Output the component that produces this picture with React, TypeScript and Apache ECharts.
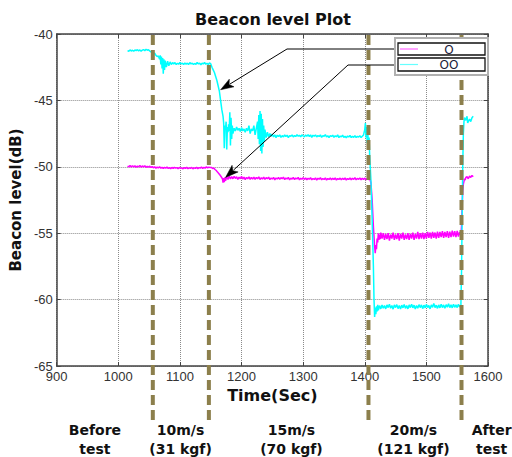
import React, { useEffect, useRef } from "react";
import * as echarts from "echarts";

const xMin = 900;
const xMax = 1600;
const yMin = -65;
const yMax = -40;

// Phase boundaries (dashed lines), seconds
const phaseBoundaries = [1056, 1147, 1406, 1557];
// Phase labels below the chart: [time of centre, text]
const phaseLabelTimes = [962, 1101, 1281, 1479, 1606];
const phaseLabelTexts = ["Before\ntest", "10m/s\n(31 kgf)", "15m/s\n(70 kgf)", "20m/s\n(121 kgf)", "After\ntest"];

const seriesNames = ["O", "OO"];

// ---- Cyan series ("OO") ----
const cyanBefore: number[][] = [
  [1015, -41.25], [1017, -41.3], [1019, -41.2], [1021, -41.28], [1023, -41.22], [1025, -41.3], [1027, -41.2],
  [1029, -41.26], [1031, -41.18], [1033, -41.27], [1035, -41.2], [1037, -41.29], [1039, -41.22], [1041, -41.17],
  [1043, -41.26], [1045, -41.15], [1047, -41.22], [1049, -41.18], [1051, -41.28], [1053, -41.35],
];
const cyan10: number[][] = [
  [1055, -41.4], [1057, -41.5], [1059, -41.45], [1061, -41.6], [1063, -41.7], [1065, -41.65], [1067, -41.9],
  [1068, -41.6], [1069, -42.3], [1070, -41.7], [1071, -42.6], [1072, -41.8], [1073, -43.0], [1074, -41.9],
  [1075, -42.7], [1076, -42.0], [1078, -42.5], [1080, -42.05], [1082, -42.4], [1084, -42.1], [1086, -42.3],
  [1088, -42.15], [1090, -42.25], [1092, -42.15], [1094, -42.3], [1096, -42.2], [1098, -42.28], [1100, -42.15],
  [1102, -42.25], [1104, -42.2], [1106, -42.3], [1108, -42.18], [1110, -42.27], [1112, -42.2], [1114, -42.3],
  [1116, -42.15], [1118, -42.25], [1120, -42.2], [1122, -42.3], [1124, -42.22], [1126, -42.28], [1128, -42.15],
  [1130, -42.25], [1132, -42.2], [1134, -42.32], [1136, -42.2], [1138, -42.25], [1140, -42.15], [1142, -42.28],
  [1144, -42.2], [1146, -42.3], [1148, -42.18], [1150, -42.25],
];
const cyan15: number[][] = [
  [1152, -42.5], [1154, -42.7], [1156, -42.9], [1158, -43.2], [1160, -43.5], [1162, -43.9], [1164, -44.3],
  [1166, -45.0], [1168, -45.7], [1170, -46.2], [1171, -46.7], [1172, -48.6], [1173, -46.9], [1174, -47.2],
  [1175, -46.6], [1176, -48.7], [1177, -47.0], [1178, -47.4], [1179, -46.8], [1180, -47.3], [1181, -45.9],
  [1182, -48.4], [1183, -46.3], [1184, -47.9], [1185, -46.9], [1186, -47.5], [1188, -47.1], [1190, -47.3],
  [1192, -47.0], [1194, -47.25], [1196, -47.1], [1198, -47.35], [1200, -47.05], [1202, -47.3], [1204, -47.15],
  [1206, -47.4], [1208, -47.1], [1210, -47.3], [1212, -46.9], [1214, -47.5], [1216, -47.15], [1218, -47.3],
  [1220, -46.9], [1222, -47.6], [1224, -47.1], [1226, -46.6], [1227, -47.9], [1228, -46.1], [1229, -48.3],
  [1230, -45.8], [1231, -48.8], [1232, -46.0], [1233, -49.0], [1234, -46.4], [1235, -48.5], [1236, -46.9],
  [1237, -48.1], [1238, -47.2], [1240, -47.8], [1242, -47.4], [1244, -47.75], [1246, -47.5], [1248, -47.7],
  [1250, -47.55], [1252, -47.75], [1254, -47.6], [1256, -47.8], [1258, -47.62], [1260, -47.72], [1262, -47.6],
  [1264, -47.78], [1266, -47.65], [1268, -47.75], [1270, -47.6], [1272, -47.72], [1274, -47.62], [1276, -47.8],
  [1278, -47.65], [1280, -47.7], [1282, -47.6], [1284, -47.75], [1286, -47.65], [1288, -47.72], [1290, -47.58],
  [1292, -47.7], [1294, -47.62], [1296, -47.75], [1298, -47.6], [1300, -47.68], [1302, -47.75], [1304, -47.6],
  [1306, -47.7], [1308, -47.58], [1310, -47.72], [1312, -47.6], [1314, -47.78], [1316, -47.62], [1318, -47.7],
  [1320, -47.6], [1322, -47.75], [1324, -47.65], [1326, -47.72], [1328, -47.6], [1330, -47.78], [1332, -47.65],
  [1334, -47.7], [1336, -47.58], [1338, -47.75], [1340, -47.66], [1342, -47.8], [1344, -47.65], [1346, -47.72],
  [1348, -47.62], [1350, -47.78], [1352, -47.66], [1354, -47.74], [1356, -47.6], [1358, -47.8], [1360, -47.68],
  [1362, -47.75], [1364, -47.62], [1366, -47.78], [1368, -47.7], [1370, -47.82], [1372, -47.68], [1374, -47.76],
  [1376, -47.64], [1378, -47.8], [1380, -47.7], [1382, -47.78], [1384, -47.65], [1386, -47.8], [1388, -47.7],
  [1390, -47.76], [1392, -47.66], [1394, -47.8], [1396, -47.7], [1398, -47.6], [1400, -47.2], [1401, -46.7],
  [1402, -47.8], [1403, -47.0], [1404, -48.2], [1405, -47.4], [1406, -48.6], [1407, -47.8], [1408, -49.2],
];
const cyan20: number[][] = [
  [1410, -51.0], [1412, -54.0], [1414, -57.5], [1415, -60.0], [1416, -61.3], [1417, -60.6], [1418, -61.1],
  [1419, -60.5], [1420, -60.9], [1421, -60.4], [1422, -60.8], [1424, -60.45], [1426, -60.7], [1428, -60.4],
  [1430, -60.65], [1432, -60.45], [1434, -60.7], [1436, -60.4], [1438, -60.6], [1440, -60.35], [1442, -60.65],
  [1444, -60.45], [1446, -60.72], [1448, -60.4], [1450, -60.6], [1452, -60.38], [1454, -60.68], [1456, -60.45],
  [1458, -60.7], [1460, -60.42], [1462, -60.62], [1464, -60.36], [1466, -60.66], [1468, -60.44], [1470, -60.7],
  [1472, -60.4], [1474, -60.6], [1476, -60.35], [1478, -60.62], [1480, -60.42], [1482, -60.7], [1484, -60.45],
  [1486, -60.65], [1488, -60.38], [1490, -60.6], [1492, -60.4], [1494, -60.68], [1496, -60.42], [1498, -60.62],
  [1500, -60.36], [1502, -60.6], [1504, -60.44], [1506, -60.7], [1508, -60.4], [1510, -60.58], [1512, -60.3],
  [1514, -60.6], [1516, -60.42], [1518, -60.66], [1520, -60.4], [1522, -60.62], [1524, -60.35], [1526, -60.6],
  [1528, -60.4], [1530, -60.65], [1532, -60.38], [1534, -60.58], [1536, -60.32], [1538, -60.6], [1540, -60.4],
  [1542, -60.62], [1544, -60.35], [1546, -60.58], [1548, -60.4], [1550, -60.6], [1552, -60.36], [1554, -60.55],
  [1556, -60.45],
];
const cyanAfter: number[][] = [
  [1557, -58.0], [1558, -54.0], [1559, -50.0], [1560, -47.5], [1561, -46.6], [1562, -46.3], [1564, -46.5],
  [1566, -46.2], [1567, -46.7], [1568, -46.6], [1570, -46.4], [1572, -46.6], [1574, -46.3], [1576, -46.2],
];

// ---- Magenta series ("O") ----
const magBefore: number[][] = [
  [1015, -49.95], [1017, -50.0], [1019, -49.9], [1021, -50.02], [1023, -49.92], [1025, -50.0], [1027, -49.93],
  [1029, -50.03], [1031, -49.95], [1033, -50.0], [1035, -49.9], [1037, -50.02], [1039, -49.94], [1041, -50.0],
  [1043, -49.92], [1045, -50.04], [1047, -49.96], [1049, -50.02], [1051, -49.95], [1053, -50.05], [1055, -49.98],
  [1057, -50.08], [1059, -50.0], [1061, -50.1], [1063, -50.02], [1065, -50.08], [1067, -50.0], [1069, -50.1],
  [1071, -50.04], [1073, -50.12], [1075, -50.05], [1077, -50.1], [1079, -50.02], [1081, -50.12], [1083, -50.06],
  [1085, -50.14], [1087, -50.05], [1089, -50.12], [1091, -50.04], [1093, -50.1], [1095, -50.06], [1097, -50.15],
  [1099, -50.05], [1101, -50.12], [1103, -50.08], [1105, -50.15], [1107, -50.06], [1109, -50.12], [1111, -50.04],
  [1113, -50.14], [1115, -50.08], [1117, -50.12], [1119, -50.05], [1121, -50.15], [1123, -50.08], [1125, -50.12],
  [1127, -50.04], [1129, -50.14], [1131, -50.06], [1133, -50.1], [1135, -50.02], [1137, -50.12], [1139, -50.05],
  [1141, -50.1], [1143, -50.0], [1145, -50.08], [1147, -50.02], [1149, -50.06],
];
const mag15: number[][] = [
  [1151, -50.05], [1153, -50.12], [1155, -50.1], [1157, -50.2], [1159, -50.28], [1161, -50.4], [1163, -50.5],
  [1165, -50.62], [1167, -50.75], [1169, -50.9], [1170, -51.2], [1171, -50.85], [1172, -51.15], [1173, -50.8],
  [1174, -51.05], [1176, -50.75], [1178, -50.95], [1180, -50.7], [1182, -50.92], [1184, -50.74], [1186, -50.9],
  [1188, -50.72], [1190, -50.88], [1192, -50.75], [1194, -50.95], [1196, -50.78], [1198, -50.9], [1200, -50.72],
  [1202, -50.92], [1204, -50.78], [1206, -50.96], [1208, -50.8], [1210, -50.9], [1212, -50.76], [1214, -50.94],
  [1216, -50.8], [1218, -50.92], [1220, -50.78], [1222, -50.95], [1224, -50.8], [1226, -50.9], [1228, -50.76],
  [1230, -50.96], [1232, -50.82], [1234, -50.92], [1236, -50.78], [1238, -50.95], [1240, -50.82], [1242, -50.9],
  [1244, -50.78], [1246, -50.96], [1248, -50.84], [1250, -50.92], [1252, -50.8], [1254, -50.98], [1256, -50.84],
  [1258, -50.92], [1260, -50.8], [1262, -50.95], [1264, -50.82], [1266, -50.9], [1268, -50.78], [1270, -50.96],
  [1272, -50.84], [1274, -50.92], [1276, -50.8], [1278, -50.98], [1280, -50.85], [1282, -50.93], [1284, -50.8],
  [1286, -50.96], [1288, -50.84], [1290, -50.92], [1292, -50.8], [1294, -50.98], [1296, -50.86], [1298, -50.94],
  [1300, -50.82], [1302, -50.95], [1304, -50.84], [1306, -50.98], [1308, -50.86], [1310, -50.94], [1312, -50.82],
  [1314, -50.98], [1316, -50.88], [1318, -50.95], [1320, -50.84], [1322, -51.0], [1324, -50.86], [1326, -50.94],
  [1328, -50.82], [1330, -50.98], [1332, -50.88], [1334, -50.96], [1336, -50.84], [1338, -51.0], [1340, -50.88],
  [1342, -50.95], [1344, -50.84], [1346, -50.98], [1348, -50.86], [1350, -50.96], [1352, -50.84], [1354, -51.0],
  [1356, -50.88], [1358, -50.95], [1360, -50.85], [1362, -50.98], [1364, -50.86], [1366, -50.96], [1368, -50.84],
  [1370, -51.0], [1372, -50.88], [1374, -50.95], [1376, -50.84], [1378, -50.98], [1380, -50.86], [1382, -50.95],
  [1384, -50.82], [1386, -50.98], [1388, -50.88], [1390, -50.94], [1392, -50.84], [1394, -50.98], [1396, -50.86],
  [1398, -50.95], [1400, -50.85], [1402, -50.98], [1404, -50.88], [1406, -50.96], [1408, -50.9],
];
const mag20: number[][] = [
  [1410, -51.2], [1412, -52.5], [1414, -54.5], [1416, -56.0], [1417, -56.5], [1418, -55.9], [1419, -56.2],
  [1420, -55.4], [1421, -55.7], [1422, -55.0], [1423, -55.5], [1424, -55.1], [1425, -55.45], [1426, -54.95],
  [1428, -55.4], [1430, -55.0], [1432, -55.5], [1434, -55.05], [1436, -55.45], [1438, -55.0], [1440, -55.55],
  [1442, -55.1], [1444, -55.4], [1446, -54.95], [1448, -55.5], [1450, -55.1], [1452, -55.45], [1454, -55.0],
  [1456, -55.55], [1458, -55.05], [1460, -55.4], [1462, -54.95], [1464, -55.5], [1466, -55.1], [1468, -55.45],
  [1470, -55.0], [1472, -55.5], [1474, -55.05], [1476, -55.4], [1478, -54.95], [1480, -55.5], [1482, -55.05],
  [1484, -55.4], [1486, -54.9], [1488, -55.45], [1490, -55.0], [1492, -55.4], [1494, -54.95], [1496, -55.45],
  [1498, -55.0], [1500, -55.4], [1502, -54.9], [1504, -55.35], [1506, -54.95], [1508, -55.4], [1510, -54.9],
  [1512, -55.35], [1514, -54.95], [1516, -55.4], [1518, -54.88], [1520, -55.35], [1522, -54.9], [1524, -55.3],
  [1526, -54.85], [1528, -55.35], [1530, -54.9], [1532, -55.3], [1534, -54.85], [1536, -55.35], [1538, -54.88],
  [1540, -55.3], [1542, -54.8], [1544, -55.25], [1546, -54.85], [1548, -55.3], [1550, -54.82], [1552, -55.25],
  [1554, -54.9], [1556, -55.2],
];
const magAfter: number[][] = [
  [1557, -54.5], [1558, -53.0], [1559, -51.8], [1560, -51.3], [1561, -51.1], [1562, -50.9], [1563, -51.0],
  [1564, -50.8], [1566, -50.75], [1568, -50.9], [1570, -50.7], [1572, -50.8], [1574, -50.65], [1576, -50.75],
];

// Points the two annotation arrows point at (time, dB)
const arrowTargets: number[][] = [
  [1166, -44.2],
  [1174, -50.8],
];

const MAGENTA = "#ff00ff";
const CYAN = "#00ffff";
const OLIVE = "#8c7f4c";
const TICK_FONT = "Liberation Sans, Arial, sans-serif";
const BOLD_FONT = "DejaVu Sans, sans-serif";

export default function App() {
  const ref = useRef<HTMLDivElement>(null);

  useEffect(() => {
    if (!ref.current) return;
    const chart = echarts.init(ref.current, undefined, { renderer: "svg" });

    const magenta = [...magBefore, ...mag15, ...mag20, ...magAfter];
    const cyan = [...cyanBefore, ...cyan10, ...cyan15, ...cyan20, ...cyanAfter];

    const axisCommon = {
      type: "value" as const,
      axisTick: { show: true, inside: true, length: 4, lineStyle: { color: "#444" } },
      axisLine: { show: true, lineStyle: { color: "#444", width: 1.5 } },
    };
    const plain = (v: number) => String(v);

    chart.setOption({
      animation: false,
      backgroundColor: "#ffffff",
      title: {
        text: "Beacon level Plot",
        left: 268,
        top: 6,
        textAlign: "center",
        textStyle: { fontFamily: BOLD_FONT, fontWeight: "bold", fontSize: 16, color: "#111" },
      },
      grid: { left: 48, right: 24, top: 34, bottom: 91, show: false },
      xAxis: [
        {
          ...axisCommon,
          min: xMin,
          max: xMax,
          interval: 100,
          position: "bottom",
          name: "Time(Sec)",
          nameLocation: "middle",
          nameGap: 18,
          nameTextStyle: { fontFamily: BOLD_FONT, fontWeight: "bold", fontSize: 16, color: "#111" },
          axisLabel: { margin: 4, fontFamily: TICK_FONT, fontSize: 13, color: "#333", formatter: plain },
          splitLine: { show: true, lineStyle: { type: "dotted", color: "#8a8a8a", width: 1 } },
        },
        {
          ...axisCommon,
          min: xMin,
          max: xMax,
          interval: 100,
          position: "top",
          axisLabel: { show: false },
          splitLine: { show: false },
        },
      ],
      yAxis: [
        {
          ...axisCommon,
          min: yMin,
          max: yMax,
          interval: 5,
          position: "left",
          name: "Beacon level(dB)",
          nameLocation: "middle",
          nameGap: 25,
          nameRotate: 90,
          nameTextStyle: { fontFamily: BOLD_FONT, fontWeight: "bold", fontSize: 15, color: "#111" },
          axisLabel: { margin: 4, fontFamily: TICK_FONT, fontSize: 13, color: "#333", formatter: plain },
          splitLine: { show: true, lineStyle: { type: "dotted", color: "#8a8a8a", width: 1 } },
        },
        {
          ...axisCommon,
          min: yMin,
          max: yMax,
          interval: 5,
          position: "right",
          axisLabel: { show: false },
          splitLine: { show: false },
        },
      ],
      series: [
        {
          name: seriesNames[0],
          type: "line",
          data: magenta,
          showSymbol: false,
          lineStyle: { color: MAGENTA, width: 1.5 },
          itemStyle: { color: MAGENTA },
        },
        {
          name: seriesNames[1],
          type: "line",
          data: cyan,
          showSymbol: false,
          lineStyle: { color: CYAN, width: 1.5 },
          itemStyle: { color: CYAN },
        },
      ],
    });

    const px = (t: number, v: number) =>
      chart.convertToPixel({ xAxisIndex: 0, yAxisIndex: 0 }, [t, v]) as number[];

    const graphics: any[] = [];

    // Dashed phase boundaries (extend below the axis)
    const topY = px(xMin, yMax)[1];
    phaseBoundaries.forEach((t) => {
      const x = px(t, yMax)[0];
      graphics.push({
        type: "line",
        z: 50,
        shape: { x1: x, y1: topY + 1, x2: x, y2: 421 },
        style: { stroke: OLIVE, lineWidth: 4, lineDash: [10, 5] },
      });
    });

    // Phase labels
    phaseLabelTimes.forEach((t, i) => {
      const x = px(t, yMin)[0];
      graphics.push({
        type: "text",
        z: 50,
        x,
        y: 420,
        style: {
          text: phaseLabelTexts[i],
          fill: "#111",
          font: `bold 14px ${BOLD_FONT}`,
          lineHeight: 19,
          align: "center",
          verticalAlign: "top",
        },
      });
    });

    // Legend
    const lgX = 395;
    const lgY = 38;
    graphics.push({
      type: "rect",
      z: 60,
      shape: { x: lgX, y: lgY, width: 93, height: 37 },
      style: { fill: "#ffffff", stroke: "#b0b0b0", lineWidth: 2 },
    });
    const rows = [
      { y: 43, h: 12, color: MAGENTA, label: seriesNames[0] },
      { y: 58, h: 13, color: CYAN, label: seriesNames[1] },
    ];
    rows.forEach((r) => {
      graphics.push({
        type: "rect",
        z: 61,
        shape: { x: 398, y: r.y, width: 87, height: r.h },
        style: { fill: "#ffffff", stroke: "#111", lineWidth: 1.3 },
      });
      graphics.push({
        type: "line",
        z: 62,
        shape: { x1: 400, y1: r.y + r.h / 2, x2: 418, y2: r.y + r.h / 2 },
        style: { stroke: r.color, lineWidth: 1.2, opacity: 0.6 },
      });
      graphics.push({
        type: "text",
        z: 62,
        x: 449,
        y: r.y + r.h / 2 + 0.5,
        style: {
          text: r.label,
          fill: "#1c1c3a",
          font: `12px ${BOLD_FONT}`,
          align: "center",
          verticalAlign: "middle",
        },
      });
    });

    // Annotation arrows
    const arrowStarts = [
      [[398, 49], [287, 49]],
      [[398, 65], [348, 65]],
    ];
    arrowTargets.forEach((tgt, i) => {
      const tip = px(tgt[0], tgt[1]);
      const [start, elbow] = arrowStarts[i];
      const dx = tip[0] - elbow[0];
      const dy = tip[1] - elbow[1];
      const len = Math.sqrt(dx * dx + dy * dy);
      const ux = dx / len;
      const uy = dy / len;
      const headL = 13;
      const headW = 4.5;
      const bx = tip[0] - ux * headL;
      const by = tip[1] - uy * headL;
      graphics.push({
        type: "polyline",
        z: 55,
        shape: { points: [start, elbow, [bx + ux * 2, by + uy * 2]] },
        style: { stroke: "#000", lineWidth: 1, fill: "none" },
      });
      graphics.push({
        type: "polygon",
        z: 56,
        shape: {
          points: [
            [tip[0], tip[1]],
            [bx - uy * headW, by + ux * headW],
            [bx + ux * 3, by + uy * 3],
            [bx + uy * headW, by - ux * headW],
          ],
        },
        style: { fill: "#000", stroke: "#000", lineWidth: 0.5 },
      });
    });

    chart.setOption({ graphic: graphics });

    return () => {
      chart.dispose();
    };
  }, []);

  return <div ref={ref} style={{ width: 512, height: 457, position: "absolute", left: 0, top: 0 }} />;
}
